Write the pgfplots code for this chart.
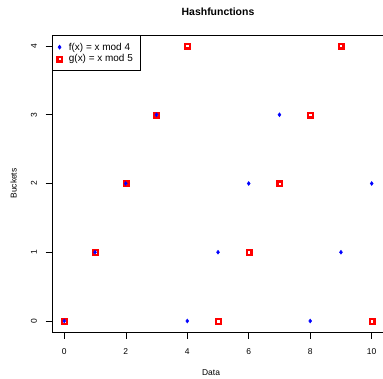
\documentclass[border=0pt]{standalone}
\usepackage{pgfplots}
\pgfplotsset{compat=1.18}
\usepackage{fontspec}
\setmainfont{Liberation Sans}
\begin{document}
\begin{tikzpicture}[x=1bp,y=1bp]
\begin{axis}[
  at={(52bp,47bp)}, anchor=south west,
  scale only axis, width=332bp, height=297bp,
  xmin=-0.4, xmax=10.4, ymin=-0.16, ymax=4.16,
  xtick={0,2,4,6,8,10}, ytick={0,1,2,3,4},
  tick align=outside, tick pos=left,
  major tick length=6.5bp,
  tick style={black, line width=0.5pt},
  axis line style={black, line width=0.6pt},
  /pgf/number format/assume math mode=true,
  ticklabel style={font=\fontsize{8.5}{10}\selectfont},
  yticklabel style={rotate=90, anchor=south, yshift=5bp},
  xticklabel style={yshift=-7bp},
  xlabel={Data}, ylabel={Buckets},
  label style={font=\fontsize{8.5}{10}\selectfont},
  xlabel style={at={(axis description cs:0.479,-0.138)}, anchor=center},
  ylabel style={at={(axis description cs:-0.116,0.5)}, anchor=center, rotate=0},
  title={\textbf{Hashfunctions}},
  title style={font=\fontsize{10.5}{12}\selectfont, at={(axis description cs:0.5,1.057)}, anchor=center},
  legend style={at={(0,1)}, anchor=north west, draw=black, line width=0.6pt,
    font=\fontsize{10}{12}\selectfont, inner xsep=4bp, inner ysep=6bp, row sep=0bp,
    nodes={inner ysep=1.5bp, inner xsep=3bp},
    legend cell align=left},
]
\addlegendimage{only marks, mark=diamond*, mark size=2bp, color=blue}
\addlegendentry{\hspace{3bp}f(x) = x mod 4}
\addlegendimage{legend image code/.code={
  \fill[red] (0.3cm-3bp,-3bp) rectangle ++(6bp,6bp);
  \fill[white] (0.3cm-0.7bp,-0.7bp) rectangle ++(1.4bp,1.4bp);}}
\addlegendentry{\hspace{3bp}g(x) = x mod 5}
\addplot[forget plot, only marks, mark=square*, mark size=3bp, color=red] coordinates {
(0,0) (1,1) (2,2) (3,3) (4,4) (5,0) (6,1) (7,2) (8,3) (9,4) (10,0)};
\addplot[forget plot, only marks, mark=square*, mark size=0.7bp, color=white] coordinates {
(0,0) (1,1) (2,2) (3,3) (4,4) (5,0) (6,1) (7,2) (8,3) (9,4) (10,0)};
\addplot[forget plot, only marks, mark=diamond*, mark size=2bp, color=blue] coordinates {
(0,0) (1,1) (2,2) (3,3) (4,0) (5,1) (6,2) (7,3) (8,0) (9,1) (10,2)};
\end{axis}
\pgfresetboundingbox
\useasboundingbox (0,0) rectangle (383bp,379bp);
\end{tikzpicture}
\end{document}
